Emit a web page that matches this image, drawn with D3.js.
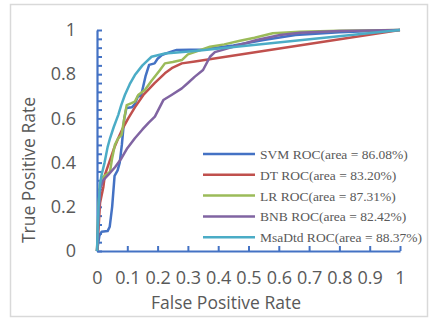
<!DOCTYPE html>
<html>
<head>
<meta charset="utf-8">
<script src="https://cdn.jsdelivr.net/npm/d3@7"></script>
<style>
  body { margin: 0; background: #fff; }
  .tick text { font-family: "Open Sans", sans-serif; fill: #595959; }
</style>
</head>
<body>
<div id="chart"></div>
<script>
// ROC curves, [false positive rate, true positive rate]
const svm = [[0,0],[0.008,0.07],[0.015,0.087],[0.035,0.09],[0.042,0.11],[0.05,0.2],[0.058,0.34],[0.068,0.365],[0.075,0.4],[0.082,0.48],[0.09,0.6],[0.097,0.647],[0.115,0.65],[0.125,0.665],[0.135,0.7],[0.145,0.7],[0.16,0.79],[0.172,0.842],[0.19,0.849],[0.2,0.87],[0.214,0.887],[0.24,0.9],[0.263,0.91],[0.35,0.912],[0.45,0.93],[0.55,0.955],[0.655,0.977],[0.8,0.99],[1,1]];
const dt = [[0,0],[0.005,0.1],[0.01,0.217],[0.021,0.29],[0.026,0.344],[0.04,0.4],[0.055,0.46],[0.07,0.51],[0.085,0.555],[0.103,0.6],[0.125,0.65],[0.153,0.706],[0.19,0.76],[0.224,0.804],[0.25,0.83],[0.28,0.849],[0.323,0.857],[1,1]];
const lr = [[0,0],[0.005,0.2],[0.01,0.3],[0.015,0.33],[0.03,0.345],[0.043,0.359],[0.05,0.42],[0.059,0.48],[0.07,0.51],[0.081,0.525],[0.09,0.6],[0.098,0.66],[0.112,0.668],[0.125,0.676],[0.136,0.706],[0.158,0.729],[0.18,0.77],[0.208,0.819],[0.224,0.849],[0.25,0.855],[0.28,0.864],[0.3,0.89],[0.373,0.924],[0.42,0.935],[0.472,0.951],[0.52,0.965],[0.58,0.985],[0.67,0.992],[0.8,0.997],[1,1]];
const bnb = [[0,0],[0.005,0.15],[0.01,0.28],[0.02,0.32],[0.037,0.344],[0.06,0.38],[0.081,0.42],[0.1,0.465],[0.125,0.51],[0.15,0.55],[0.17,0.58],[0.191,0.608],[0.219,0.683],[0.246,0.706],[0.28,0.736],[0.3,0.76],[0.323,0.789],[0.35,0.819],[0.373,0.879],[0.389,0.9],[0.449,0.924],[0.527,0.955],[0.604,0.977],[0.67,0.988],[0.8,0.995],[1,1]];
const msadtd = [[0,0],[0.005,0.2],[0.01,0.3],[0.015,0.344],[0.025,0.4],[0.035,0.47],[0.043,0.51],[0.055,0.56],[0.07,0.615],[0.08,0.66],[0.092,0.706],[0.108,0.755],[0.125,0.796],[0.15,0.84],[0.18,0.879],[0.224,0.894],[0.323,0.905],[1,1]];

const seriesNames = ["SVM ROC(area = 86.08%)", "DT ROC(area = 83.20%)", "LR ROC(area = 87.31%)", "BNB ROC(area = 82.42%)", "MsaDtd ROC(area = 88.37%)"];
const seriesData = [svm, dt, lr, bnb, msadtd];
const colors = ["#4472C4", "#C0504D", "#9BBB59", "#8064A2", "#4BACC6"];

const xTicks = [0, 0.1, 0.2, 0.3, 0.4, 0.5, 0.6, 0.7, 0.8, 0.9, 1];
const yMajor = [0, 0.2, 0.4, 0.6, 0.8, 1];
const yMinor = d3.range(0, 25).map(i => i * 0.04).concat([1]);

const W = 429, H = 323;
const svg = d3.select("#chart").append("svg")
  .attr("width", W).attr("height", H);

svg.append("rect").attr("width", W).attr("height", H).attr("fill", "#fff");
// outer frame
svg.append("rect")
  .attr("x", 10.5).attr("y", 4.5).attr("width", 417).attr("height", 312)
  .attr("fill", "none").attr("stroke", "#d9d9d9").attr("stroke-width", 1.5);

const x = d3.scaleLinear().domain([0, 1]).range([97, 400]);
const y = d3.scaleLinear().domain([0, 1]).range([251, 30]);

// y axis: minor ticks inward, labels on major values
const yAxis = svg.append("g")
  .attr("transform", `translate(${x(0)},0)`)
  .call(d3.axisLeft(y).tickValues(yMinor).tickSize(-5).tickSizeOuter(0)
    .tickFormat(d => yMajor.some(v => Math.abs(v - d) < 1e-9) ? d3.format("~g")(d) : ""));
yAxis.selectAll("line").attr("stroke", "#4472C4").attr("stroke-width", 2);
yAxis.select(".domain").attr("stroke", "#4472C4").attr("stroke-width", 2.2);
yAxis.selectAll("text").attr("x", -21).attr("font-size", 18);

// x axis
const xAxis = svg.append("g")
  .attr("transform", `translate(0,${y(0)})`)
  .call(d3.axisBottom(x).tickValues(xTicks).tickSize(-5).tickSizeOuter(0)
    .tickFormat(d3.format("~g")));
xAxis.selectAll("line").attr("stroke", "#4472C4").attr("stroke-width", 2);
xAxis.select(".domain").attr("stroke", "#4472C4").attr("stroke-width", 2.2);
xAxis.selectAll("text").attr("y", 20).attr("font-size", 18);

// curves
const line = d3.line().x(d => x(d[0])).y(d => y(d[1]));
svg.append("g").selectAll("path")
  .data(seriesData)
  .join("path")
    .attr("d", line)
    .attr("fill", "none")
    .attr("stroke", (d, i) => colors[i])
    .attr("stroke-width", 2.5)
    .attr("stroke-linejoin", "round");

// axis titles
svg.append("text")
  .attr("x", 226).attr("y", 309)
  .attr("text-anchor", "middle")
  .attr("font-family", "Open Sans, sans-serif").attr("font-size", 17.5)
  .attr("fill", "#595959")
  .text("False Positive Rate");

svg.append("text")
  .attr("transform", "translate(35,170) rotate(-90)")
  .attr("text-anchor", "middle")
  .attr("font-family", "Open Sans, sans-serif").attr("font-size", 17.5)
  .attr("fill", "#595959")
  .text("True Positive Rate");

// legend
const legend = svg.append("g").selectAll("g")
  .data(seriesNames)
  .join("g")
    .attr("transform", (d, i) => `translate(203,${154 + i * 20.8})`);
legend.append("line")
  .attr("x1", 0).attr("x2", 52)
  .attr("stroke", (d, i) => colors[i]).attr("stroke-width", 2.5);
legend.append("text")
  .attr("x", 57).attr("y", 5)
  .attr("font-family", "Liberation Serif, Times New Roman, serif").attr("font-size", 13.5)
  .attr("fill", "#595959")
  .text(d => d);
</script>
</body>
</html>
